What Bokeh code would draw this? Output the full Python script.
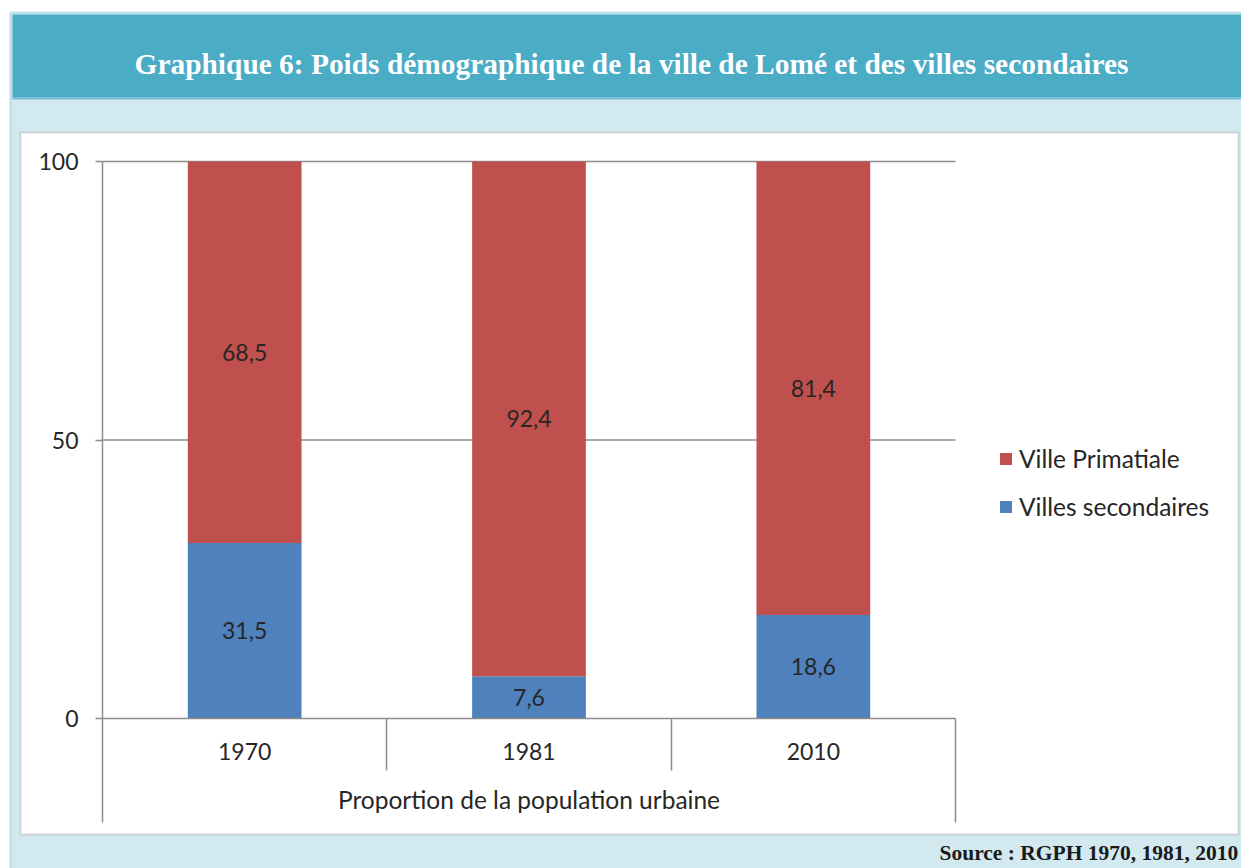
from bokeh.plotting import figure
from bokeh.models import (ColumnDataSource, Range1d, FixedTicker, LinearAxis,
                          BoxAnnotation, Label, LabelSet, Legend, LegendItem)
from bokeh.embed import file_html
from bokeh.resources import INLINE
from bokeh.core.properties import value

# ---- data ----
years = ["1970", "1981", "2010"]
villes_secondaires = [31.5, 7.6, 18.6]
ville_primatiale = [68.5, 92.4, 81.4]
series_names = ["Ville Primatiale", "Villes secondaires"]
y_ticks = [0, 50, 100]
title_text = "Graphique 6: Poids démographique de la ville de Lomé et des villes secondaires"
x_title = "Proportion de la population urbaine"
source_text = "Source : RGPH 1970, 1981, 2010"

# ---- style ----
RED = "#C0504D"
BLUE = "#4F81BD"
GRAY = "#8C8C8C"
TEAL = "#4BACC6"
LIGHT = "#D3E9F0"
EDGE = "#7BC0D6"
FONT = "Lato"
TXT = "#262626"
FS = "23px"      # numbers
FS_T = "24.5px"  # words

# ---- layout (pixels on the canvas) ----
W, H = 1241, 868
PX_L, PX_R, PX_T, PX_B = 102, 955, 161, 718   # plot area
SEP_B, EXT_B = 770, 822                        # category separators / outer lines bottom

n = len(years)
sx = (PX_R - PX_L) / n
sy = (PX_B - PX_T) / 100.0
x_range = Range1d(-PX_L / sx, n + (W - PX_R) / sx)
y_range = Range1d(-(H - PX_B) / sy, 100 + PX_T / sy)

p = figure(width=W, height=H, x_range=x_range, y_range=y_range,
           x_axis_type=None, y_axis_type=None,
           output_backend="svg", toolbar_location=None, min_border=0)
p.outline_line_color = None
p.border_fill_color = "white"
p.background_fill_color = "white"

# ---- background decoration (canvas units) ----
def cbox(l, r, t, b, fill=None, line=None, lw=1.0, level="image"):
    bx = BoxAnnotation(left=l, right=r, top=t, bottom=b,
                       left_units="canvas", right_units="canvas",
                       top_units="canvas", bottom_units="canvas",
                       fill_color=fill if fill else "white",
                       fill_alpha=1.0 if fill else 0.0,
                       line_color=line, line_width=lw, level=level)
    p.add_layout(bx)
    return bx

cbox(10, 1260, 12, 890, fill=LIGHT, line=EDGE, lw=3)
cbox(12, 1260, 14, 97, fill=TEAL)
cbox(12, 1260, 97, 99, fill="#72BCD4")
cbox(20, 1238, 132, 834, fill="white", line="#8A8A8A", lw=2)

# ---- gridlines (under bars) ----
grid_vals = [t for t in y_ticks if t > 0]
p.segment(x0=[0] * len(grid_vals), x1=[n] * len(grid_vals), y0=grid_vals, y1=grid_vals,
          line_color=GRAY, line_width=1.5)

# ---- bars ----
centers = [i + 0.5 for i in range(n)]
src = ColumnDataSource(dict(x=centers, sec=villes_secondaires, pri=ville_primatiale))
r_sec, r_pri = p.vbar_stack(["sec", "pri"], x="x", width=0.4, color=[BLUE, RED],
                            line_color=None, source=src)

# ---- value labels ----
lab_x, lab_y, lab_t = [], [], []
for c, s, pr in zip(centers, villes_secondaires, ville_primatiale):
    lab_x += [c, c]
    lab_y += [s / 2, s + pr / 2]
    lab_t += [f"{s:.1f}".replace(".", ","), f"{pr:.1f}".replace(".", ",")]
lsrc = ColumnDataSource(dict(x=lab_x, y=lab_y, t=lab_t))
p.add_layout(LabelSet(x="x", y="y", text="t", source=lsrc, text_align="center",
                      text_baseline="middle", text_font=value(FONT),
                      text_font_size=FS, text_color=TXT))

# ---- axes ----
yax = LinearAxis(fixed_location=0, bounds=(-(EXT_B - PX_B) / sy, 100),
                 ticker=FixedTicker(ticks=y_ticks),
                 axis_line_color=GRAY, axis_line_width=1.5,
                 major_tick_line_color=GRAY, major_tick_line_width=1.5,
                 major_tick_out=7, major_tick_in=0, minor_tick_line_color=None,
                 major_label_standoff=17, major_label_text_font=FONT,
                 major_label_text_font_size=FS, major_label_text_color=TXT)
p.add_layout(yax, "left")

xax = LinearAxis(fixed_location=0, bounds=(0, n),
                 ticker=FixedTicker(ticks=centers),
                 major_label_overrides={c: y for c, y in zip(centers, years)},
                 axis_line_color=GRAY, axis_line_width=1.5,
                 major_tick_line_color=None, minor_tick_line_color=None,
                 major_tick_out=0, major_tick_in=0,
                 major_label_standoff=24, major_label_text_font=FONT,
                 major_label_text_font_size=FS, major_label_text_color=TXT,
                 axis_label=x_title, axis_label_standoff=22,
                 axis_label_text_font=FONT, axis_label_text_font_size=FS_T,
                 axis_label_text_font_style="normal", axis_label_text_color=TXT)
p.add_layout(xax, "below")

# category separators (ticks between categories) and right outer line
sep = LinearAxis(fixed_location=0, ticker=FixedTicker(ticks=list(range(1, n))),
                 axis_line_color=None, major_tick_line_color=GRAY, major_tick_line_width=1.5,
                 major_tick_out=SEP_B - PX_B, major_tick_in=0, minor_tick_line_color=None,
                 major_label_text_font_size="0px", major_label_text_color=None)
p.add_layout(sep, "below")
outer = LinearAxis(fixed_location=0, ticker=FixedTicker(ticks=[n]),
                   axis_line_color=None, major_tick_line_color=GRAY, major_tick_line_width=1.5,
                   major_tick_out=EXT_B - PX_B, major_tick_in=0, minor_tick_line_color=None,
                   major_label_text_font_size="0px", major_label_text_color=None)
p.add_layout(outer, "below")

# ---- legend ----
legend = Legend(items=[LegendItem(label=series_names[0], renderers=[r_pri]),
                       LegendItem(label=series_names[1], renderers=[r_sec])],
                location=(998, H - 521), orientation="vertical",
                glyph_width=15, glyph_height=15, label_height=15,
                spacing=19, padding=0, margin=0, label_standoff=6,
                border_line_color=None, background_fill_alpha=0.0,
                label_text_font=FONT, label_text_font_size=FS_T,
                label_text_color=TXT)
p.add_layout(legend)

# ---- title & source ----
p.add_layout(Label(x=631, y=63, x_units="canvas", y_units="canvas", text=title_text,
                   text_align="center", text_baseline="alphabetic",
                   text_font="Liberation Serif", text_font_style="bold",
                   text_font_size="29.4px", text_color="white"))
p.add_layout(Label(x=939, y=852, x_units="canvas", y_units="canvas", text=source_text,
                   text_align="left", text_baseline="alphabetic",
                   text_font="Liberation Serif", text_font_style="bold",
                   text_font_size="21.5px", text_color="#1A1A1A"))

open("out.html", "w").write(file_html(p, INLINE))
